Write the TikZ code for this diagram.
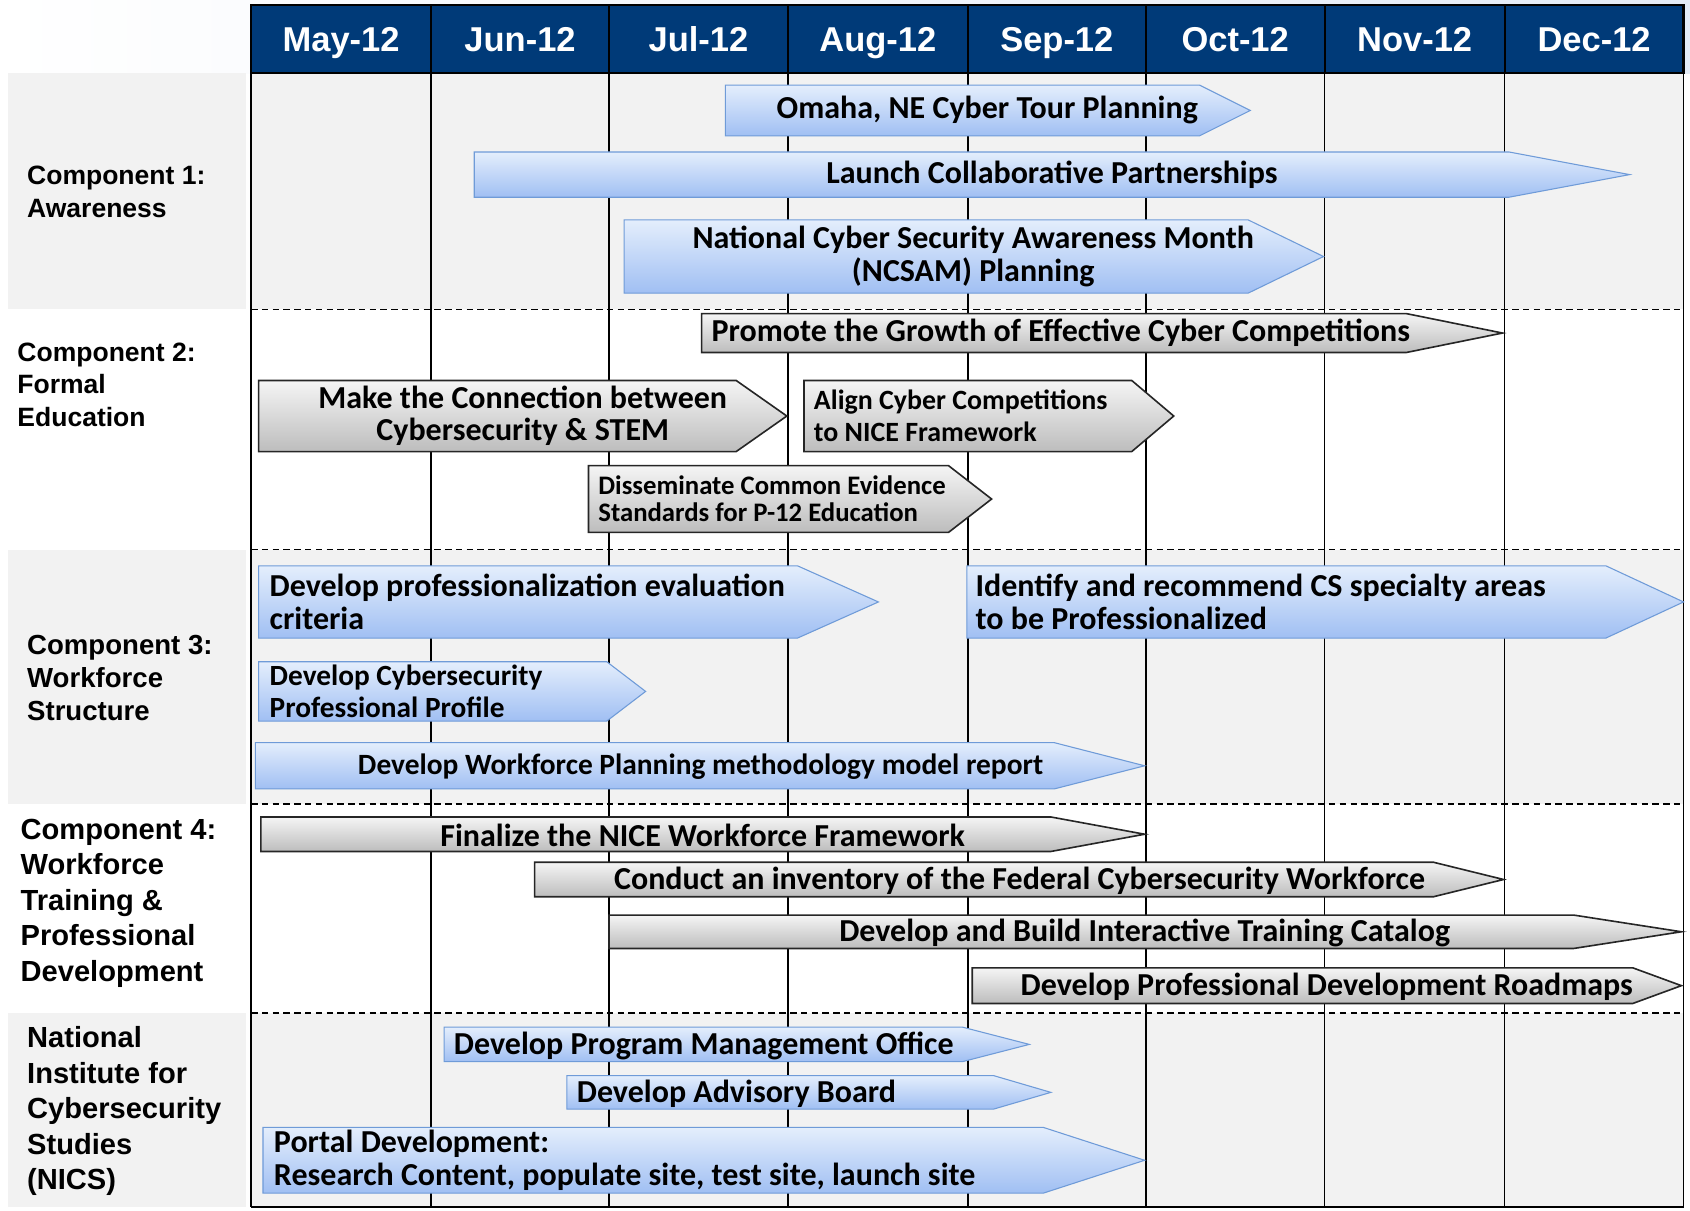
\documentclass[tikz,border=0pt]{standalone}
\usepackage{fontspec}
\setmainfont{Liberation Sans}
\newfontfamily\calibri{Carlito}

\definecolor{navy}{HTML}{003A78}
\definecolor{bandgray}{HTML}{F2F2F2}
\definecolor{skyfade}{HTML}{E3EBF6}
\definecolor{bartop}{HTML}{E4EEFC}
\definecolor{barbottom}{HTML}{A0BFF3}
\definecolor{barline}{HTML}{6F9BD8}

\begin{document}
\begin{tikzpicture}[x=1pt, y=-1pt,
		month/.style={text=white, inner sep=0pt, anchor=base, font=\bfseries\fontsize{32}{36}\selectfont},
		compo/.style={anchor=west, align=left, inner sep=0pt, font=\bfseries\fontsize{24.6}{30}\selectfont},
		bluebar/.style={draw=barline, line width=1pt, top color=bartop, bottom color=barbottom},
		graybar/.style={draw=black!85, line width=1.5pt, top color=black!4, bottom color=black!26},
		bartext/.style={inner sep=0pt, font=\calibri\bfseries\fontsize{29.7}{30}\selectfont},
		barleft/.style={bartext, anchor=west, align=left},
		barmid/.style={bartext, align=center}
	]

	\useasboundingbox (0,0) rectangle (1568,1123);
	\shade[left color=white, right color=skyfade] (0,0) rectangle (1568,68);

	% bands
	\foreach \t/\b in {68/287, 510/746, 940/1120}{
		\fill[bandgray] (7,\t) rectangle (228,\b);
		\fill[bandgray] (233,\t) rectangle (1562,\b);
	}
	\fill[white] (0,287) rectangle (1568,510);

	% grid
	\foreach \x in {233,400,565,731,898,1063,1229,1396,1562}
		\draw[line width=1.5pt] (\x,68) -- (\x,1120);
	\foreach \y in {287,510,746,940}
		\draw[line width=1.3pt, dash pattern=on 6pt off 4pt] (233,\y) -- (1562,\y);
	\draw[line width=1.5pt] (233,1120) -- (1562,1120);

	% months
	\fill[navy] (233,5) rectangle (1562,68);
	\foreach \a/\b/\m in {233/400/May, 400/565/Jun, 565/731/Jul, 731/898/Aug, 898/1063/Sep, 1063/1229/Oct, 1229/1396/Nov, 1396/1562/Dec}{
		\draw[line width=2pt] (\a,5) rectangle (\b,68);
		\node[month] (m\m) at ({(\a+\b)/2},48) {\m-12};
	}

	% components
	\node[compo] (comp1) at (25,178) {Component 1:\\Awareness};
	\node[compo] (comp2) at (16,357) {Component 2:\\Formal\\Education};
	\node[compo, font=\bfseries\fontsize{25.6}{31}\selectfont] (comp3) at (25,629) {Component 3:\\Workforce\\Structure};
	\node[compo, font=\bfseries\fontsize{27}{33}\selectfont] (comp4) at (19,838) {Component 4:\\Workforce\\Training \&\\Professional\\Development};
	\node[compo, font=\bfseries\fontsize{27}{33}\selectfont] (nics) at (25,1031) {National\\Institute for\\Cybersecurity\\Studies\\(NICS)};

	% component 1
	\path[bluebar] (673,79) -- (1113,79) -- (1160,102.5) -- (1113,126) -- (673,126) -- cycle;
	\node[barmid] (omaha) at (916,102.5) {Omaha, NE Cyber Tour Planning};
	\path[bluebar] (440,141) -- (1400,141) -- (1512,162) -- (1400,183) -- (440,183) -- cycle;
	\node[barmid] (launch) at (976,162) {Launch Collaborative Partnerships};
	\path[bluebar] (579,204) -- (1158,204) -- (1228,238) -- (1158,272) -- (579,272) -- cycle;
	\node[barmid] (ncsam) at (903,238) {National Cyber Security Awareness Month\\(NCSAM) Planning};

	% component 2
	\path[graybar] (651,291) -- (1305,291) -- (1394,309) -- (1305,327) -- (651,327) -- cycle;
	\node[barleft] (promote) at (660,309) {Promote the Growth of Effective Cyber Competitions};
	\path[graybar] (240,353) -- (683,353) -- (730,386) -- (683,419) -- (240,419) -- cycle;
	\node[barmid] (stem) at (485,386) {Make the Connection between\\Cybersecurity \& STEM};
	\path[graybar] (746,353) -- (1050,353) -- (1089,386) -- (1050,419) -- (746,419) -- cycle;
	\node[barleft, font=\calibri\bfseries\fontsize{25.9}{30}\selectfont] (align) at (755,386) {Align Cyber Competitions\\to NICE Framework};
	\path[graybar] (546,432) -- (880,432) -- (920,463) -- (880,494) -- (546,494) -- cycle;
	\node[barleft, font=\calibri\bfseries\fontsize{24.8}{25}\selectfont] (evidence) at (555,463) {Disseminate Common Evidence\\Standards for P-12 Education};

	% component 3
	\path[bluebar] (240,525) -- (740,525) -- (815,558.5) -- (740,592) -- (240,592) -- cycle;
	\node[barleft] (criteria) at (250,558.5) {Develop professionalization evaluation\\criteria};
	\path[bluebar] (897,525) -- (1490,525) -- (1562,558.5) -- (1490,592) -- (897,592) -- cycle;
	\node[barleft] (specialty) at (905,558.5) {Identify and recommend CS specialty areas\\to be Professionalized};
	\path[bluebar] (240,614) -- (563,614) -- (599,641.5) -- (563,669) -- (240,669) -- cycle;
	\node[barleft, font=\calibri\bfseries\fontsize{27.2}{29}\selectfont] (profile) at (250,641.5) {Develop Cybersecurity\\Professional Profile};
	\path[bluebar] (237,689) -- (978,689) -- (1062,710.5) -- (978,732) -- (237,732) -- cycle;
	\node[barmid, font=\calibri\bfseries\fontsize{27.3}{30}\selectfont] (planning) at (650,711.5) {Develop Workforce Planning methodology model report};

	% component 4
	\path[graybar] (242,758) -- (975,758) -- (1062,774) -- (975,790) -- (242,790) -- cycle;
	\node[barmid] (framework) at (652,775) {Finalize the NICE Workforce Framework};
	\path[graybar] (496,800) -- (1330,800) -- (1395,816) -- (1330,832) -- (496,832) -- cycle;
	\node[barmid] (inventory) at (946,817) {Conduct an inventory of the Federal Cybersecurity Workforce};
	\path[graybar] (565,849) -- (1460,849) -- (1560,864.5) -- (1460,880) -- (565,880) -- cycle;
	\node[barmid] (catalog) at (1062,865.5) {Develop and Build Interactive Training Catalog};
	\path[graybar] (902,898) -- (1515,898) -- (1560,914.5) -- (1515,931) -- (902,931) -- cycle;
	\node[barmid] (roadmaps) at (1231,915.5) {Develop Professional Development Roadmaps};

	% NICS
	\path[bluebar] (412,953) -- (893,953) -- (955,969) -- (893,985) -- (412,985) -- cycle;
	\node[barleft] (pmo) at (421,970) {Develop Program Management Office};
	\path[bluebar] (526,998) -- (922,998) -- (975,1013.5) -- (922,1029) -- (526,1029) -- cycle;
	\node[barleft] (board) at (535,1014.5) {Develop Advisory Board};
	\path[bluebar] (244,1046) -- (968,1046) -- (1062,1076.5) -- (968,1107) -- (244,1107) -- cycle;
	\node[barleft] (portal) at (254,1076.5) {Portal Development:\\Research Content, populate site, test site, launch site};

\end{tikzpicture}
\end{document}
